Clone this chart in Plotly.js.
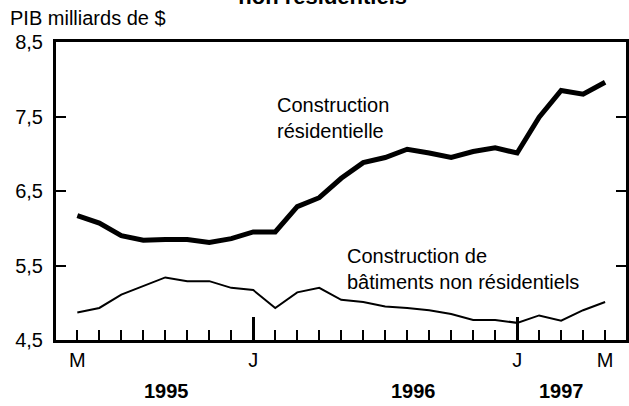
<!DOCTYPE html>
<html><head><meta charset="utf-8">
<script src="https://cdn.plot.ly/plotly-3.0.1.min.js"></script>
<style>html,body{margin:0;padding:0;background:#fff}#c{width:629px;height:406px}</style>
</head><body><div id="c"></div>
<script>
const months = ['M','J','J','A','S','O','N','D','J','F','M','A','M','J','J','A','S','O','N','D','J','F','M','A','M'];
const shownLabels = [0, 8, 20, 24];
const residential = [6.17, 6.07, 5.90, 5.84, 5.85, 5.85, 5.81, 5.86, 5.95, 5.95, 6.29, 6.41, 6.67, 6.88, 6.95, 7.06, 7.01, 6.95, 7.03, 7.08, 7.01, 7.49, 7.85, 7.80, 7.96];
const nonResidential = [4.87, 4.93, 5.11, 5.23, 5.34, 5.29, 5.29, 5.20, 5.17, 4.93, 5.14, 5.20, 5.04, 5.01, 4.95, 4.93, 4.90, 4.85, 4.77, 4.77, 4.73, 4.83, 4.76, 4.90, 5.01];
const years = ['1995', '1996', '1997'];
const yearPos = [4.05, 15.3, 22];
const janIdx = [8, 20];
const yTicks = [4.5, 5.5, 6.5, 7.5, 8.5];

const idx = months.map((_, i) => i);
const ticktext = months.map((m, i) => shownLabels.includes(i) ? m : '');
const F = 'Liberation Sans, Arial, Helvetica, sans-serif';

const traces = [
  {x: idx, y: residential, type: 'scatter', mode: 'lines', line: {color: '#000', width: 5}, hoverinfo: 'skip'},
  {x: idx, y: nonResidential, type: 'scatter', mode: 'lines', line: {color: '#000', width: 2}, hoverinfo: 'skip'},
  {x: [], y: [], xaxis: 'x2', type: 'scatter', mode: 'lines', hoverinfo: 'skip'}
];

const annotations = years.map((t, i) => ({
  x: yearPos[i], xref: 'x', y: -0.17, yref: 'paper', yanchor: 'middle',
  text: '<b>' + t + '</b>', showarrow: false, font: {family: F, size: 20, color: '#000'}
}));
annotations.push({x: 9, xref: 'x', y: 7.48, yref: 'y', xanchor: 'left', yanchor: 'middle', align: 'left',
  text: 'Construction<br>résidentielle', showarrow: false, font: {family: F, size: 20, color: '#000'}});
annotations.push({x: 12.17, xref: 'x', y: 5.45, yref: 'y', xanchor: 'left', yanchor: 'middle', align: 'left',
  text: 'Construction de<br>bâtiments non résidentiels', showarrow: false, font: {family: F, size: 20, color: '#000'}});
annotations.push({x: 0, xref: 'paper', xshift: -48, y: 1, yref: 'paper', yshift: 24, xanchor: 'left', yanchor: 'middle',
  text: 'PIB milliards de $', showarrow: false, font: {family: F, size: 20, color: '#000'}});

const layout = {
  width: 629, height: 406,
  margin: {l: 56, r: 3, t: 42, b: 66},
  paper_bgcolor: '#fff', plot_bgcolor: '#fff',
  separators: ', ',
  showlegend: false,
  font: {family: F, size: 20, color: '#000'},
  title: {text: '<b>non résidentiels</b>', x: 0.513, xanchor: 'center', yref: 'container', y: 0.99, yanchor: 'bottom',
          font: {family: F, size: 22, color: '#000'}},
  xaxis: {range: [-0.97, 24.95], tickmode: 'array', tickvals: idx, ticktext: ticktext,
          ticks: 'inside', ticklen: 10, tickwidth: 2, tickcolor: '#000',
          showline: true, linewidth: 3, linecolor: '#000', mirror: true,
          showgrid: false, zeroline: false, ticklabelstandoff: 0,
          tickfont: {family: F, size: 20, color: '#000'}},
  xaxis2: {range: [-0.97, 24.95], overlaying: 'x', anchor: 'y', side: 'bottom',
           tickmode: 'array', tickvals: janIdx, ticks: 'inside', ticklen: 23, tickwidth: 3, tickcolor: '#000',
           showticklabels: false, showline: false, showgrid: false, zeroline: false},
  yaxis: {range: [4.5, 8.5], tickmode: 'array', tickvals: yTicks, tickformat: '.1f',
          ticks: 'inside', ticklen: 10, tickwidth: 2, tickcolor: '#000',
          showline: true, linewidth: 3, linecolor: '#000', mirror: 'ticks',
          showgrid: false, zeroline: false, ticklabelstandoff: 6,
          tickfont: {family: F, size: 20, color: '#000'}},
  annotations: annotations
};

Plotly.newPlot('c', traces, layout, {displayModeBar: false, staticPlot: true});
</script></body></html>
